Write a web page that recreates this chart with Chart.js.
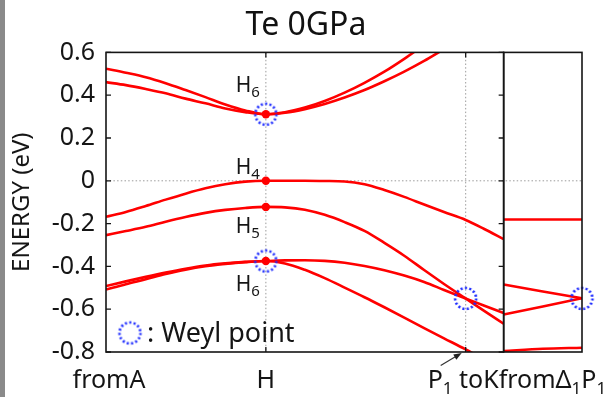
<!DOCTYPE html>
<html>
<head>
<meta charset="utf-8">
<title>Te 0GPa band structure</title>
<script src="https://cdn.jsdelivr.net/npm/chart.js@4/dist/chart.umd.min.js"></script>
<style>
  html, body { margin: 0; padding: 0; background: #fff; }
  #wrap { position: relative; width: 606px; height: 397px; overflow: hidden; }
  #wrap::before { content: ""; position: absolute; left: 0; top: 0; width: 5px; height: 397px; background: #8a8a8a; }
  #c { position: absolute; left: 0; top: 0; }
</style>
</head>
<body>
<div id="wrap"><canvas id="c" width="606" height="397"></canvas></div>
<script>
// ---- k-path of the main panel (A -> H -> P1 -> toward K), as fraction of panel width
const kMain = [0, 0.05, 0.1, 0.15, 0.2, 0.25, 0.3, 0.35, 0.402, 0.45, 0.5, 0.55, 0.6, 0.65, 0.7, 0.75, 0.8, 0.85, 0.9045, 0.95, 1.0];
const K_H = 0.402;
const K_P1 = 0.9045;

// band energies (eV) on kMain; null where the band has left the window
const cond1 = [0.524, 0.505, 0.484, 0.456, 0.424, 0.391, 0.357, 0.329, 0.311, 0.320, 0.342, 0.373, 0.412, 0.458, 0.510, 0.570, 0.635, null, null, null, null];
const cond2 = [0.461, 0.447, 0.429, 0.409, 0.384, 0.362, 0.338, 0.321, 0.311, 0.318, 0.335, 0.359, 0.389, 0.424, 0.465, 0.510, 0.560, 0.615, null, null, null];
const val1  = [-0.168, -0.146, -0.118, -0.088, -0.060, -0.035, -0.016, -0.004, 0.000, 0.000, 0.000, -0.001, -0.003, -0.016, -0.043, -0.075, -0.111, -0.146, -0.183, -0.224, -0.273];
const val2  = [-0.254, -0.235, -0.215, -0.191, -0.169, -0.150, -0.136, -0.127, -0.122, -0.124, -0.135, -0.159, -0.193, -0.234, -0.290, -0.350, -0.417, -0.482, -0.550, -0.607, -0.668];
const val3  = [-0.492, -0.470, -0.449, -0.429, -0.411, -0.396, -0.386, -0.379, -0.375, -0.372, -0.371, -0.374, -0.383, -0.398, -0.418, -0.443, -0.473, -0.510, -0.550, -0.583, -0.618];
const val4  = [-0.508, -0.483, -0.460, -0.436, -0.415, -0.399, -0.388, -0.380, -0.375, -0.386, -0.416, -0.455, -0.499, -0.544, -0.591, -0.639, -0.688, -0.736, -0.788, -0.835, null];

// ---- side panel: Delta1 -> P1
const kSide = [0, 0.5, 1];
const side1 = [-0.181, -0.181, -0.181];
const side2 = [-0.485, -0.517, -0.549];
const side3 = [-0.625, -0.587, -0.549];
const side4 = [-0.795, -0.785, -0.780];

// ---- special points
const hEnergies = [0.311, 0.000, -0.122, -0.375];       // H6, H4, H5, H6
const hSubs     = ['6', '4', '5', '6'];
const weylMain  = [[K_H, 0.311], [K_H, -0.375], [K_P1, -0.550]];
const weylSide  = [[1, -0.550]];

// ---- axis
const yTicks = [-0.8, -0.6, -0.4, -0.2, 0, 0.2, 0.4, 0.6];

const FONT = '"Noto Sans", "DejaVu Sans", sans-serif';
const INK = '#151515';
const RED = '#ff0000';

// dotted blue ring used as point style for Weyl points
function makeRing(r) {
  const size = Math.ceil(2 * r + 6);
  const cv = document.createElement('canvas');
  cv.width = size; cv.height = size;
  const g = cv.getContext('2d');
  g.strokeStyle = '#1f2dff';
  g.lineWidth = 2.6;
  g.setLineDash([2.1, 2.3]);
  g.beginPath();
  g.arc(size / 2, size / 2, r, 0, Math.PI * 2);
  g.stroke();
  return cv;
}
const ring = makeRing(10.5);

const bandStyle = {
  borderColor: RED, borderWidth: 2.6, pointRadius: 0, fill: false,
  cubicInterpolationMode: 'monotone', spanGaps: false, yAxisID: 'y'
};
const mainBand = (label, vals) => ({ ...bandStyle, label, xAxisID: 'x', data: kMain.map((k, i) => ({ x: k, y: vals[i] })) });
const sideBand = (label, vals) => ({ ...bandStyle, label, xAxisID: 'x2', data: kSide.map((k, i) => ({ x: k, y: vals[i] })) });

const datasets = [
  { label: 'Weyl', xAxisID: 'x', yAxisID: 'y', showLine: false, clip: false,
    pointStyle: ring, pointRadius: 11, data: weylMain.map(p => ({ x: p[0], y: p[1] })) },
  { label: 'Weyl side', xAxisID: 'x2', yAxisID: 'y', showLine: false, clip: false,
    pointStyle: ring, pointRadius: 11, data: weylSide.map(p => ({ x: p[0], y: p[1] })) },
  { label: 'H points', xAxisID: 'x', yAxisID: 'y', showLine: false, clip: false,
    pointRadius: 4.2, pointBorderWidth: 0, pointBackgroundColor: RED,
    data: hEnergies.map(e => ({ x: K_H, y: e })) },
  mainBand('c1', cond1), mainBand('c2', cond2),
  mainBand('v1', val1), mainBand('v2', val2), mainBand('v3', val3), mainBand('v4', val4),
  sideBand('s1', side1), sideBand('s2', side2), sideBand('s3', side3), sideBand('s4', side4)
];

// text with subscripts: parts = [{t, sub}]
function drawRich(ctx, parts, x, y, align, size, subSize, drop) {
  let w = 0;
  for (const p of parts) { ctx.font = (p.sub ? subSize : size) + 'px ' + FONT; w += ctx.measureText(p.t).width; }
  let cx = align === 'center' ? x - w / 2 : align === 'right' ? x - w : x;
  ctx.textAlign = 'left';
  ctx.textBaseline = 'alphabetic';
  for (const p of parts) {
    ctx.font = (p.sub ? subSize : size) + 'px ' + FONT;
    ctx.fillText(p.t, cx, p.sub ? y + drop : y);
    cx += ctx.measureText(p.t).width;
  }
}

const decor = {
  id: 'decor',
  beforeDatasetsDraw(chart) {
    const { ctx, chartArea: a, scales: { x, y } } = chart;
    ctx.save();
    ctx.strokeStyle = '#9c9c9c';
    ctx.lineWidth = 1;
    ctx.setLineDash([1.5, 2.2]);
    const y0 = y.getPixelForValue(0);
    ctx.beginPath(); ctx.moveTo(a.left, y0); ctx.lineTo(a.right, y0); ctx.stroke();
    for (const k of [K_H, K_P1]) {
      const xp = x.getPixelForValue(k);
      ctx.beginPath(); ctx.moveTo(xp, a.top); ctx.lineTo(xp, a.bottom); ctx.stroke();
    }
    ctx.restore();
  },
  afterDatasetsDraw(chart) {
    const { ctx, chartArea: a, scales: { x, x2, y } } = chart;
    ctx.save();
    // frames
    ctx.strokeStyle = INK;
    ctx.lineWidth = 1.6;
    ctx.strokeRect(x.left, a.top, x.right - x.left, a.bottom - a.top);
    ctx.strokeRect(x2.left, a.top, x2.right - x2.left, a.bottom - a.top);
    // inward tick marks
    ctx.lineWidth = 1.3;
    ctx.beginPath();
    for (const v of yTicks) {
      const yp = y.getPixelForValue(v);
      ctx.moveTo(x.left, yp); ctx.lineTo(x.left + 5, yp);
      ctx.moveTo(x.right - 5, yp); ctx.lineTo(x.right, yp);
    }
    for (const k of [K_H, K_P1]) {
      const xp = x.getPixelForValue(k);
      ctx.moveTo(xp, a.top); ctx.lineTo(xp, a.top + 5);
      ctx.moveTo(xp, a.bottom - 5); ctx.lineTo(xp, a.bottom);
    }
    ctx.stroke();

    // labels of the H points
    ctx.fillStyle = INK;
    const xh = x.getPixelForValue(K_H);
    const hOffsets = [-22, -7, 26, 30];
    hEnergies.forEach((e, i) => {
      const yp = y.getPixelForValue(e) + hOffsets[i];
      drawRich(ctx, [{ t: 'H' }, { t: hSubs[i], sub: true }], xh - 6, yp, 'right', 21, 15, 5);
    });

    // Weyl point key
    ctx.drawImage(ring, a.left + 24 - ring.width / 2, a.bottom - 19 - ring.height / 2);
    drawRich(ctx, [{ t: ': Weyl point' }], a.left + 41, a.bottom - 10, 'left', 27, 18, 0);

    // k-point labels
    const base = a.bottom + 36;
    drawRich(ctx, [{ t: 'fromA' }], x.getPixelForValue(0) + 3, base, 'center', 25, 17, 6);
    drawRich(ctx, [{ t: 'H' }], xh, base, 'center', 25, 17, 6);
    drawRich(ctx, [{ t: 'P' }, { t: '1', sub: true }, { t: ' toK' }], x.right - 5, base, 'right', 25, 17, 6);
    drawRich(ctx, [{ t: 'from' }, { t: 'Δ' }, { t: '1', sub: true }, { t: 'P' }, { t: '1', sub: true }], x2.left - 5, base, 'left', 25, 17, 6);

    // arrow from the P1 label to the zone point
    const tipX = x.getPixelForValue(K_P1) - 4, tipY = a.bottom + 1;
    const tailX = tipX - 21, tailY = tipY + 12.5;
    const ang = Math.atan2(tipY - tailY, tipX - tailX);
    ctx.strokeStyle = '#333';
    ctx.fillStyle = '#222';
    ctx.lineWidth = 1.2;
    ctx.beginPath(); ctx.moveTo(tailX, tailY); ctx.lineTo(tipX - 5 * Math.cos(ang), tipY - 5 * Math.sin(ang)); ctx.stroke();
    ctx.beginPath();
    ctx.moveTo(tipX, tipY);
    ctx.lineTo(tipX - 8 * Math.cos(ang) + 3 * Math.sin(ang), tipY - 8 * Math.sin(ang) - 3 * Math.cos(ang));
    ctx.lineTo(tipX - 8 * Math.cos(ang) - 3 * Math.sin(ang), tipY - 8 * Math.sin(ang) + 3 * Math.cos(ang));
    ctx.closePath(); ctx.fill();
    ctx.restore();
  }
};

const hiddenX = (weight) => ({
  type: 'linear', min: 0, max: 1, position: 'bottom', stack: 'k', stackWeight: weight,
  display: true,
  ticks: { display: false },
  grid: { display: false, drawTicks: false },
  border: { display: false }
});

new Chart(document.getElementById('c'), {
  type: 'line',
  data: { datasets },
  options: {
    responsive: false,
    devicePixelRatio: 1,
    animation: false,
    events: [],
    layout: { autoPadding: false, padding: { left: 6, right: 0, top: 0, bottom: 45 } },
    plugins: {
      legend: { display: false },
      tooltip: { enabled: false },
      title: {
        display: true, text: 'Te 0GPa', color: '#111',
        font: { family: FONT, size: 32, weight: 'normal' },
        padding: { top: 7, bottom: 7 }
      }
    },
    scales: {
      x: hiddenX(1),
      x2: hiddenX(0.197),
      y: {
        type: 'linear', min: -0.8, max: 0.6, position: 'left',
        afterBuildTicks(s) { s.ticks = yTicks.map(v => ({ value: v })); },
        ticks: {
          callback: v => (Math.abs(v) < 1e-9 ? '0' : v.toFixed(1)),
          font: { family: FONT, size: 25 }, color: INK, padding: 11
        },
        grid: { display: false, drawTicks: false },
        border: { display: false },
        title: {
          display: true, text: 'ENERGY (eV)', color: INK,
          font: { family: FONT, size: 24 }, padding: { top: 2, bottom: 0 }
        },
        afterFit(s) { s.width = 100; }
      },
      ySpace: {
        type: 'linear', position: 'right', display: true,
        ticks: { display: false },
        grid: { display: false, drawTicks: false },
        border: { display: false },
        afterFit(s) { s.width = 24; }
      }
    }
  },
  plugins: [decor]
});
</script>
</body>
</html>
